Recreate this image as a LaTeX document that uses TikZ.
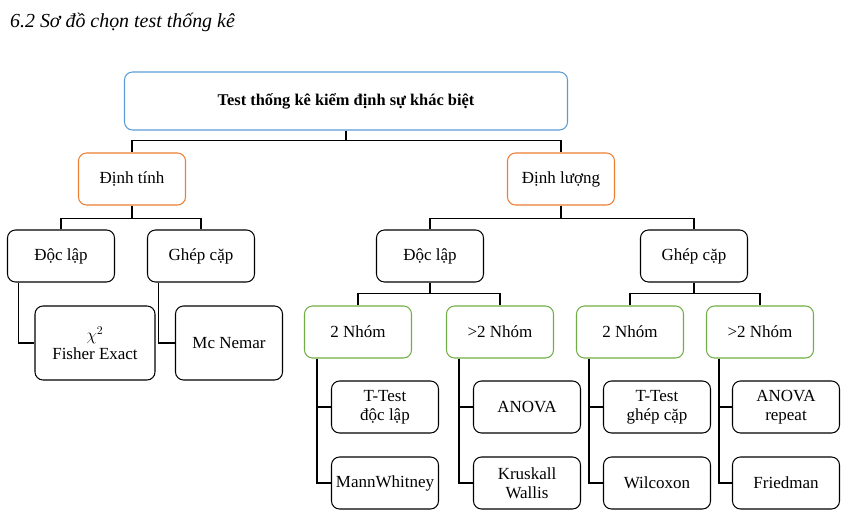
\documentclass[tikz,border=0pt]{standalone}
\usepackage{fontspec}
\setmainfont{Liberation Serif}
\begin{document}
\begin{tikzpicture}[x=0.03cm,y=-0.03cm,
  box/.style={draw,rounded corners=0.24cm,line width=0.9pt,minimum width=3.21cm,minimum height=1.56cm,align=center,font=\fontsize{14.5}{16}\selectfont,inner sep=1pt},
  orange/.style={draw={rgb,255:red,237;green,125;blue,49}},
  blue/.style={draw={rgb,255:red,91;green,155;blue,213}},
  green/.style={draw={rgb,255:red,112;green,173;blue,71}},
  ln/.style={line width=0.9pt}]
\useasboundingbox (0,0) rectangle (857,525);
\node[anchor=west,font=\itshape\fontsize{17}{19}\selectfont] (title) at (6,22) {6.2 Sơ đồ chọn test thống kê};
\node[box,blue,minimum width=13.29cm,minimum height=1.74cm,font=\bfseries\fontsize{14}{16}\selectfont] (top) at (346,101) {Test thống kê kiểm định sự khác biệt};
\node[box,orange] (dt) at (132,179) {Định tính};
\node[box,orange] (dl) at (561,179) {Định lượng};
\node[box] (docL) at (61,256) {Độc lập};
\node[box] (ghepL) at (201,256) {Ghép cặp};
\node[box,minimum width=3.6cm,minimum height=2.22cm] (fisher) at (95,343) {$\chi^2$\\Fisher Exact};
\node[box,minimum height=2.22cm] (mcn) at (229,343) {Mc Nemar};
\node[box] (docR) at (430,256) {Độc lập};
\node[box] (ghepR) at (694,256) {Ghép cặp};
\node[box,green] (n1) at (358,332) {2 Nhóm};
\node[box,green] (n2) at (500,332) {>2 Nhóm};
\node[box,green] (n3) at (630,332) {2 Nhóm};
\node[box,green] (n4) at (760,332) {>2 Nhóm};
\node[box] (tt1) at (385,407) {T-Test\\độc lập};
\node[box] (mw) at (385,483) {MannWhitney};
\node[box] (an) at (527,407) {ANOVA};
\node[box] (kw) at (527,483) {Kruskall\\Wallis};
\node[box] (tt2) at (657,407) {T-Test\\ghép cặp};
\node[box] (wx) at (657,483) {Wilcoxon};
\node[box] (ar) at (786,407) {ANOVA\\repeat};
\node[box] (fr) at (786,483) {Friedman};
\draw[ln] (top.south) -- ++(0,10) -| (dt.north);
\draw[ln] (top.south) -- ++(0,10) -| (dl.north);
\draw[ln] (dt.south) -- ++(0,13) -| (docL.north);
\draw[ln] (dt.south) -- ++(0,13) -| (ghepL.north);
\draw[ln] (dl.south) -- ++(0,13) -| (docR.north);
\draw[ln] (dl.south) -- ++(0,13) -| (ghepR.north);
\draw[ln] (docR.south) -- ++(0,11) -| (n1.north);
\draw[ln] (docR.south) -- ++(0,11) -| (n2.north);
\draw[ln] (ghepR.south) -- ++(0,11) -| (n3.north);
\draw[ln] (ghepR.south) -- ++(0,11) -| (n4.north);
\draw[ln] ([xshift=0.36cm]docL.south west) |- (fisher.west);
\draw[ln] ([xshift=0.36cm]ghepL.south west) |- (mcn.west);
\foreach \p/\a/\b in {n1/tt1/mw,n2/an/kw,n3/tt2/wx,n4/ar/fr}{
  \draw[ln] ([xshift=0.39cm]\p.south west) |- (\a.west);
  \draw[ln] ([xshift=0.39cm]\p.south west) |- (\b.west);
}
\end{tikzpicture}
\end{document}
